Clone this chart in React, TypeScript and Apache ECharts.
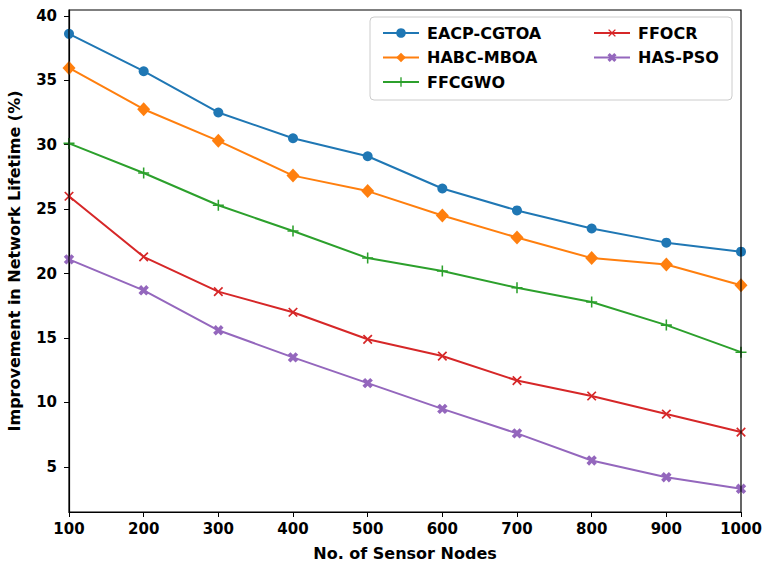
import React, { useEffect, useRef } from "react";
import * as echarts from "echarts";

const nodes = [100, 200, 300, 400, 500, 600, 700, 800, 900, 1000];
const eacp = [38.6, 35.7, 32.5, 30.5, 29.1, 26.6, 24.9, 23.5, 22.4, 21.7];
const habc = [35.95, 32.75, 30.3, 27.6, 26.4, 24.5, 22.8, 21.2, 20.7, 19.1];
const ffcgwo = [30.1, 27.8, 25.3, 23.3, 21.2, 20.2, 18.9, 17.8, 16.0, 13.9];
const ffocr = [26.0, 21.3, 18.6, 17.0, 14.9, 13.6, 11.7, 10.5, 9.1, 7.7];
const haspso = [21.1, 18.7, 15.6, 13.5, 11.5, 9.5, 7.6, 5.5, 4.2, 3.3];
const yTicks = [5, 10, 15, 20, 25, 30, 35, 40];
const xTicks = nodes;

const PLUS = "path://M4.3,0H5.7V4.3H10V5.7H5.7V10H4.3V5.7H0V4.3H4.3Z";
const FATPLUS = "path://M3.3,0H6.7V3.3H10V6.7H6.7V10H3.3V6.7H0V3.3H3.3Z";

const FONT = "DejaVu Sans";

export default function App() {
  const ref = useRef<HTMLDivElement>(null);
  useEffect(() => {
    document.body.style.margin = "0";
    const chart = echarts.init(ref.current!, null, { renderer: "svg" });
    const mk = (name: string, data: number[], color: string, symbol: string, size: any, rotate = 0) => ({
      name,
      type: "line",
      data: nodes.map((x, i) => [x, data[i]]),
      symbol,
      symbolSize: size,
      symbolRotate: rotate,
      showAllSymbol: true,
      lineStyle: { color, width: 2 },
      itemStyle: { color, borderWidth: 0 },
      emphasis: { disabled: true },
      clip: false,
    });
    const textStyle = { fontFamily: FONT, fontWeight: "bold", fontSize: 16, color: "#000", padding: [0, 0, 0, 3], lineHeight: 18 };
    chart.setOption({
      animation: false,
      backgroundColor: "#fff",
      grid: { left: 69, right: 24, top: 10, bottom: 53, containLabel: false, outerBoundsMode: "none" },
      graphic: [
        {
          type: "rect",
          shape: { x: 370, y: 17, width: 362, height: 83, r: 4 },
          style: { fill: "rgba(255,255,255,0.85)", stroke: "#cccccc", lineWidth: 1 },
          z: 10,
        },
        {
          type: "rect",
          shape: { x: 69, y: 10, width: 672, height: 502 },
          style: { fill: "none", stroke: "#000", lineWidth: 1.2 },
          z: 5,
          silent: true,
        },
      ],
      legend: [
        {
          data: ["EACP-CGTOA", "HABC-MBOA", "FFCGWO"],
          orient: "vertical",
          left: 377,
          top: 19,
          itemWidth: 36,
          itemHeight: 12,
          itemGap: 6.5,
          textStyle,
          z: 20,
        },
        {
          data: ["FFOCR", "HAS-PSO"],
          orient: "vertical",
          left: 588,
          top: 19,
          itemWidth: 36,
          itemHeight: 12,
          itemGap: 6.5,
          textStyle,
          z: 20,
        },
      ],
      xAxis: {
        type: "value",
        min: 100,
        max: 1000,
        interval: 100,
        name: "No. of Sensor Nodes",
        nameLocation: "middle",
        nameGap: 33,
        nameTextStyle: { fontFamily: FONT, fontWeight: "bold", fontSize: 16, color: "#000" },
        axisLine: { show: true, lineStyle: { color: "#000", width: 1.2 } },
        axisTick: { show: true, length: 5, lineStyle: { color: "#000" }, customValues: xTicks },
        axisLabel: {
          fontFamily: FONT, fontWeight: "bold", fontSize: 15, color: "#000", margin: 9,
          customValues: xTicks, formatter: (v: number) => String(v),
        },
        splitLine: { show: false },
      },
      yAxis: {
        type: "value",
        min: 1.5,
        max: 40.45,
        name: "Improvement in Network Lifetime (%)",
        nameLocation: "middle",
        nameGap: 47,
        nameTextStyle: { fontFamily: FONT, fontWeight: "bold", fontSize: 16, color: "#000" },
        axisLine: { show: true, lineStyle: { color: "#000", width: 1.2 } },
        axisTick: { show: true, length: 5, lineStyle: { color: "#000" }, customValues: yTicks },
        axisLabel: {
          fontFamily: FONT, fontWeight: "bold", fontSize: 15, color: "#000", margin: 12,
          customValues: yTicks, formatter: (v: number) => String(v),
        },
        splitLine: { show: false },
      },
      series: [
        mk("EACP-CGTOA", eacp, "#1f77b4", "circle", 10),
        mk("HABC-MBOA", habc, "#ff7f0e", "diamond", [13, 14]),
        mk("FFCGWO", ffcgwo, "#2ca02c", PLUS, 11),
        mk("FFOCR", ffocr, "#d62728", PLUS, 12, 45),
        mk("HAS-PSO", haspso, "#9467bd", FATPLUS, 11, 45),
      ],
    });
    return () => chart.dispose();
  }, []);
  return <div ref={ref} style={{ position: "absolute", left: 0, top: 0, width: 765, height: 565 }} />;
}
